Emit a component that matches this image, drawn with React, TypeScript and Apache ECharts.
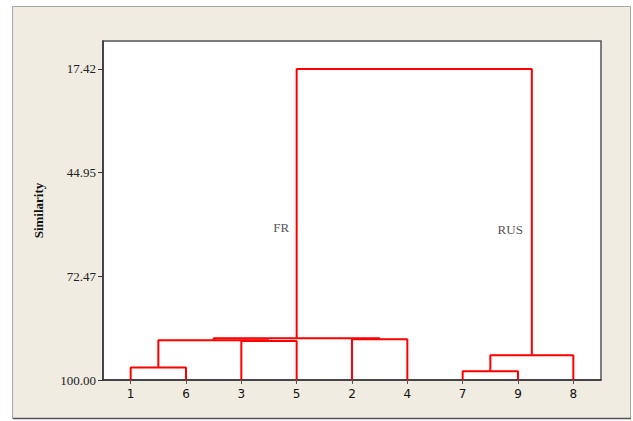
import React, { useEffect, useRef } from "react";
import * as echarts from "echarts";

const leaves = ["1", "6", "3", "5", "2", "4", "7", "9", "8"];
// [left child, right child, similarity level, new cluster id]
const merges: [string, string, number, string][] = [
  ["1", "6", 96.7, "c1"],
  ["3", "5", 89.64, "c2"],
  ["c1", "c2", 89.46, "c3"],
  ["2", "4", 89.19, "c4"],
  ["c3", "c4", 88.93, "c5"],
  ["7", "9", 97.7, "c6"],
  ["c6", "8", 93.4, "c7"],
  ["c5", "c7", 17.42, "root"],
];
const yTicks = [17.42, 44.95, 72.47, 100.0];
const groupLabels: [string, number, number][] = [
  ["FR", 3.22, 59.5],
  ["RUS", 7.36, 60.0],
];

export default function App() {
  const ref = useRef<HTMLDivElement>(null);
  useEffect(() => {
    if (!ref.current) return;
    const chart = echarts.init(ref.current, undefined, { renderer: "svg" });
    const pos: Record<string, [number, number]> = {};
    leaves.forEach((l, i) => (pos[l] = [i + 0.5, 100]));
    const series: any[] = merges.map(([a, b, h, id]) => {
      const pa = pos[a];
      const pb = pos[b];
      pos[id] = [(pa[0] + pb[0]) / 2, h];
      return {
        type: "line",
        data: [
          [pa[0], pa[1]],
          [pa[0], h],
          [pb[0], h],
          [pb[0], pb[1]],
        ],
        showSymbol: false,
        symbol: "none",
        lineStyle: { color: "#FF0000", width: 2 },
        silent: true,
        z: 3,
      };
    });
    series.push({
      type: "scatter",
      data: groupLabels.map(([n, x, y]) => ({ value: [x, y], name: n })),
      symbolSize: 0,
      label: {
        show: true,
        position: "inside",
        formatter: (p: any) => p.name,
        fontFamily: "Liberation Serif",
        fontSize: 13,
        color: "#222",
      },
      silent: true,
    });
    const xTickVals = leaves.map((_, i) => i + 0.5);
    chart.setOption({
      animation: false,
      backgroundColor: "#FFFFFF",
      graphic: [
        {
          type: "rect",
          shape: { x: 12.5, y: 6.5, width: 618, height: 412 },
          style: { fill: "#F0ECE1", stroke: "#A8A8A0", lineWidth: 1 },
          z: -10,
        },
        {
          type: "line",
          shape: { x1: 13, y1: 418.5, x2: 631, y2: 418.5 },
          style: { stroke: "#555", lineWidth: 1.5 },
          z: -9,
        },
      ],
      grid: {
        left: 103,
        right: 32,
        top: 41,
        bottom: 41,
        show: true,
        backgroundColor: "#FFFFFF",
        borderColor: "#555",
        borderWidth: 1.5,
      },
      xAxis: {
        type: "value",
        min: 0,
        max: 9,
        splitLine: { show: false },
        axisLine: { show: true, lineStyle: { color: "#333", width: 1.5 } },
        axisTick: {
          show: true,
          length: 4,
          customValues: xTickVals,
          lineStyle: { color: "#555" },
        },
        axisLabel: {
          customValues: xTickVals,
          formatter: (v: number) => leaves[Math.round(v - 0.5)] ?? "",
          fontFamily: "DejaVu Sans",
          fontSize: 12,
          color: "#111",
          margin: 8,
        },
      },
      yAxis: {
        type: "value",
        inverse: true,
        min: 10,
        max: 100,
        name: "Similarity",
        nameLocation: "middle",
        nameGap: 58,
        nameTextStyle: {
          fontFamily: "Liberation Serif",
          fontWeight: "bold",
          fontSize: 13,
          color: "#111",
        },
        splitLine: { show: false },
        axisLine: { show: true, lineStyle: { color: "#333", width: 1.5 } },
        axisTick: {
          show: true,
          length: 5,
          customValues: yTicks,
          lineStyle: { color: "#333" },
        },
        axisLabel: {
          customValues: yTicks,
          formatter: (v: number) => v.toFixed(2),
          fontFamily: "Liberation Serif",
          fontSize: 13,
          color: "#222",
          margin: 7,
        },
      },
      series,
    });
    return () => chart.dispose();
  }, []);
  return (
    <div
      ref={ref}
      style={{ position: "absolute", left: 0, top: 0, width: 633, height: 421 }}
    />
  );
}
